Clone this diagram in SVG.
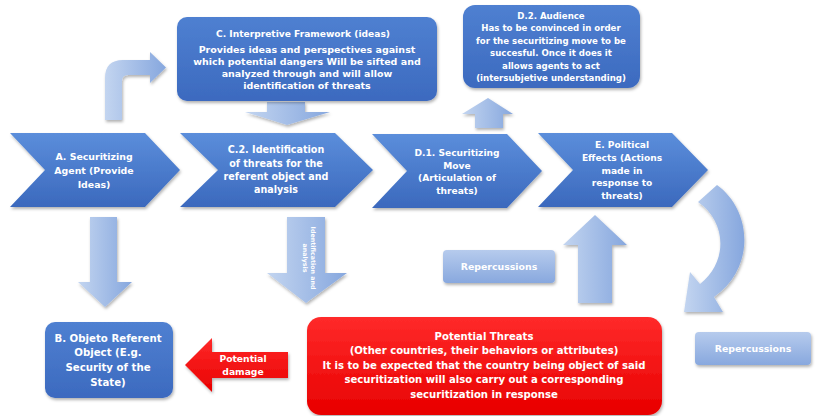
<svg xmlns="http://www.w3.org/2000/svg" width="816" height="416" viewBox="0 0 816 416">
<defs>
<linearGradient id="gDark" x1="0" y1="0" x2="0" y2="1">
<stop offset="0" stop-color="#5b8edb"/>
<stop offset="1" stop-color="#3b69bd"/>
</linearGradient>
<linearGradient id="gBox" x1="0" y1="0" x2="0" y2="1">
<stop offset="0" stop-color="#4f80d1"/>
<stop offset="1" stop-color="#3c6abf"/>
</linearGradient>
<linearGradient id="gLight" x1="0" y1="0" x2="1" y2="0">
<stop offset="0" stop-color="#c3d5f0"/>
<stop offset="1" stop-color="#86a7de"/>
</linearGradient>
<linearGradient id="gLightV" x1="0" y1="0" x2="0" y2="1">
<stop offset="0" stop-color="#b6cbed"/>
<stop offset="1" stop-color="#88a8de"/>
</linearGradient>
<linearGradient id="gRed" x1="0" y1="0" x2="0" y2="1">
<stop offset="0" stop-color="#ff2a2a"/>
<stop offset="1" stop-color="#e80000"/>
</linearGradient>
<filter id="sh" x="-10%" y="-10%" width="130%" height="140%">
<feDropShadow dx="1" dy="2" stdDeviation="1.5" flood-color="#000" flood-opacity="0.3"/>
</filter>
</defs>
<style>
.t{font-family:"DejaVu Sans","Liberation Sans",sans-serif;font-weight:bold;fill:#fff;text-anchor:middle}
.dark{fill:url(#gDark);filter:url(#sh)}
.box{fill:url(#gBox);filter:url(#sh)}
.light{fill:url(#gLight);filter:url(#sh)}
.lightv{fill:url(#gLightV);filter:url(#sh)}
.red{fill:url(#gRed);filter:url(#sh)}
</style>
<rect width="816" height="416" fill="#fff"/>

<g id="connectors">
<path class="light" d="M105,120 L105,78 Q105,60 123,60 L150,60 L150,52 L166,67.5 L150,83 L150,75 L128,75 Q122,75 122,81 L122,120 Z"/>
<path class="light" d="M267,102 L305,102 L305,112 L330,112 L287,125 L245,112 L267,112 Z"/>
<path class="light" d="M475,128 L475,114 L462,114 L488,98 L513,114 L503,114 L503,128 Z"/>
<path class="light" d="M90,217 L117,217 L117,282 L132,282 L105,307 L78,282 L90,282 Z"/>
<path class="light" d="M287,217 L325,217 L325,273 L347,273 L306,303 L267,273 L287,273 Z"/>
<path class="light" d="M578,303 L578,245 L563,245 L595,215 L627,245 L612,245 L612,303 Z"/>
<path class="light" d="M698,202 L717,185 C752,210 756,268 714,297 L723,312 L684,312 L690,272 L700,284 C728,262 727,222 698,202 Z"/>
<path class="red" d="M185,365 L212,338 L212,352 L288,352 L288,378 L212,378 L212,392 Z"/>
<text class="t" font-size="9.2" x="243" y="362">Potential</text>
<text class="t" font-size="9.2" x="243" y="375">damage</text>
<text class="t" font-size="6.3" transform="translate(311,258) rotate(90)">Identification and</text>
<text class="t" font-size="6.3" transform="translate(303,258) rotate(90)">analysis</text>
</g>

<g id="nodeC">
<rect class="box" x="177" y="17" width="260" height="84" rx="10"/>
<text class="t" font-size="9.1" x="303" y="37" font-weight="normal">C. Interpretive Framework (ideas)</text>
<text class="t" font-size="9.5" x="307" y="53">Provides ideas and perspectives against</text>
<text class="t" font-size="9.5" x="307" y="65">which potential dangers Will be sifted and</text>
<text class="t" font-size="9.5" x="307" y="77">analyzed through and will allow</text>
<text class="t" font-size="9.5" x="307" y="89">identification of threats</text>
</g>

<g id="nodeD2">
<rect class="box" x="463" y="5" width="177" height="83" rx="12"/>
<text class="t" font-size="8.6" x="551" y="19" font-weight="normal">D.2. Audience</text>
<text class="t" font-size="8.6" x="551" y="31">Has to be convinced in order</text>
<text class="t" font-size="8.6" x="551" y="44">for the securitizing move to be</text>
<text class="t" font-size="8.6" x="551" y="56">succesful. Once it does it</text>
<text class="t" font-size="8.6" x="551" y="69">allows agents to act</text>
<text class="t" font-size="8.6" x="551" y="81">(intersubjetive understanding)</text>
</g>

<g id="nodeA">
<path class="dark" d="M10,133 L145,133 L180,170 L145,207 L10,207 L45,170 Z"/>
<text class="t" font-size="9.4" x="94" y="160">A. Securitizing</text>
<text class="t" font-size="9.4" x="94" y="174">Agent (Provide</text>
<text class="t" font-size="9.4" x="94" y="188">Ideas)</text>
</g>

<g id="nodeC2">
<path class="dark" d="M180,133 L335,133 L373,170 L335,207 L180,207 L218,170 Z"/>
<text class="t" font-size="9.6" x="276" y="153">C.2. Identification</text>
<text class="t" font-size="9.6" x="276" y="167">of threats for the</text>
<text class="t" font-size="9.6" x="276" y="180">referent object and</text>
<text class="t" font-size="9.6" x="276" y="193">analysis</text>
</g>

<g id="nodeD1">
<path class="dark" d="M372,134 L507,134 L542,171 L507,208 L372,208 L407,171 Z"/>
<text class="t" font-size="9.1" x="457" y="156">D.1. Securitizing</text>
<text class="t" font-size="9.1" x="457" y="169">Move</text>
<text class="t" font-size="9.1" x="457" y="181">(Articulation of</text>
<text class="t" font-size="9.1" x="457" y="194">threats)</text>
</g>

<g id="nodeE">
<path class="dark" d="M538,133 L672,133 L708,170 L672,207 L538,207 L573,170 Z"/>
<text class="t" font-size="9.1" x="622" y="148">E. Political</text>
<text class="t" font-size="9.1" x="622" y="161">Effects (Actions</text>
<text class="t" font-size="9.1" x="622" y="174">made in</text>
<text class="t" font-size="9.1" x="622" y="186">response to</text>
<text class="t" font-size="9.1" x="622" y="199">threats)</text>
</g>

<g id="nodeRep1">
<rect class="lightv" x="443" y="250" width="112" height="33" rx="4"/>
<text class="t" font-size="9.4" x="499" y="270">Repercussions</text>
</g>

<g id="nodeRep2">
<rect class="lightv" x="695" y="332" width="116" height="33" rx="4"/>
<text class="t" font-size="9.4" x="753" y="352">Repercussions</text>
</g>

<g id="nodeB">
<rect class="box" x="45" y="322" width="128" height="76" rx="10"/>
<text class="t" font-size="10.2" x="108" y="342">B. Objeto Referent</text>
<text class="t" font-size="10.2" x="108" y="356">Object  (E.g.</text>
<text class="t" font-size="10.2" x="108" y="371">Security of the</text>
<text class="t" font-size="10.2" x="108" y="386">State)</text>
</g>

<g id="nodeThreats">
<rect class="red" x="307" y="317" width="355" height="98" rx="14"/>
<text class="t" font-size="10.1" x="484" y="340">Potential Threats</text>
<text class="t" font-size="10.1" x="484" y="354">(Other countries, their behaviors or attributes)</text>
<text class="t" font-size="10.1" x="484" y="369">It is to be expected that the country being object of said</text>
<text class="t" font-size="10.1" x="484" y="383">securitization will also carry out a corresponding</text>
<text class="t" font-size="10.1" x="484" y="398">securitization in response</text>
</g>
</svg>
